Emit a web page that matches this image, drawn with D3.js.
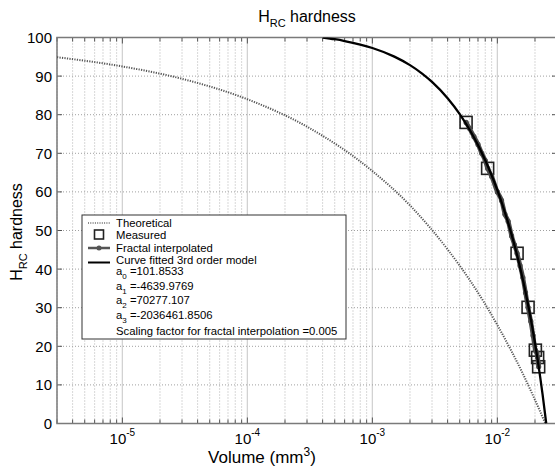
<!DOCTYPE html>
<html>
<head>
<meta charset="utf-8">
<script src="https://cdn.jsdelivr.net/npm/d3@7"></script>
<style>
body { margin: 0; background: #fff; }
text { font-family: "Liberation Sans", Arial, sans-serif; fill: #000; }
</style>
</head>
<body>
<script>
// theoretical curve (volume in mm^3, HRC)
var theoVol = [3e-6, 1e-5, 3e-5, 1e-4, 3e-4, 1e-3, 2e-3, 4e-3, 6e-3, 8e-3, 1e-2, 1.3e-2, 1.6e-2, 1.9e-2, 2.2e-2, 2.42e-2];
var theoHrc = [94.9, 92.5, 89.3, 84.0, 76.9, 65.4, 56.5, 45.1, 37.2, 30.9, 25.5, 18.7, 12.9, 7.7, 3.1, 0];

// measured points
var measVol = [0.00562, 0.00836, 0.01438, 0.01761, 0.02014, 0.0210, 0.0214];
var measHrc = [78.0, 66.1, 44.1, 30.1, 19.0, 17.1, 14.7];

// fractal interpolated
var fracVol = [0.00562, 0.0060, 0.0065, 0.0070, 0.0075, 0.0080, 0.00836, 0.0090, 0.0100, 0.0108, 0.0115, 0.0122, 0.0130, 0.0137, 0.01438, 0.0152, 0.0160, 0.0168, 0.01761, 0.0185, 0.0193, 0.02014, 0.0207, 0.0210, 0.0213, 0.0214];
var fracHrc = [78.0, 76.4, 74.3, 72.3, 70.0, 68.1, 66.1, 64.0, 60.0, 57.8, 54.2, 52.4, 48.6, 46.3, 44.1, 40.9, 37.8, 33.9, 30.1, 26.5, 22.8, 19.0, 18.3, 17.1, 15.6, 14.7];

// curve fitted 3rd order model
var fitVol = [0.0004, 0.0005, 0.0006, 0.0008, 0.001, 0.0015, 0.002, 0.0025, 0.003, 0.004, 0.005, 0.006, 0.007, 0.008, 0.009, 0.010, 0.011, 0.012, 0.013, 0.014, 0.015, 0.016, 0.017, 0.018, 0.019, 0.020, 0.021, 0.022, 0.023, 0.024, 0.0246];
var fitHrc = [100.0, 99.55, 99.09, 98.18, 97.28, 95.04, 92.84, 90.66, 88.51, 84.28, 80.16, 76.10, 72.12, 68.19, 64.30, 60.44, 56.60, 52.77, 48.93, 45.08, 41.19, 37.26, 33.28, 29.22, 25.09, 20.87, 16.54, 12.10, 7.53, 2.82, 0];

var yTickVals = [0, 10, 20, 30, 40, 50, 60, 70, 80, 90, 100];
var xMajorVals = [1e-5, 1e-4, 1e-3, 1e-2];
var xMajorExp = ["-5", "-4", "-3", "-2"];

var coefNames = ["0", "1", "2", "3"];
var coefVals = ["=101.8533", "=-4639.9769", "=70277.107", "=-2036461.8506"];

var width = 555, height = 469;
var margin = {left: 57, top: 37.5, right: 557, bottom: 423.5};

var x = d3.scaleLog().domain([3e-6, 3e-2]).range([margin.left, margin.right]);
var y = d3.scaleLinear().domain([0, 100]).range([margin.bottom, margin.top]);

var svg = d3.select("body").append("svg").attr("width", width).attr("height", height);

svg.append("clipPath").attr("id", "clip")
  .append("rect")
  .attr("x", margin.left).attr("y", margin.top)
  .attr("width", margin.right - margin.left).attr("height", margin.bottom - margin.top);

// grid
var allX = x.ticks();
var isMajor = function(v) {
  return xMajorVals.some(function(m) { return Math.abs(m - v) / m < 1e-6; });
};
var grid = svg.append("g");
allX.forEach(function(v) {
  var major = isMajor(v);
  grid.append("line")
    .attr("x1", x(v)).attr("x2", x(v))
    .attr("y1", margin.top).attr("y2", margin.bottom)
    .style("stroke", major ? "#d2d2d2" : "#b0b0b0")
    .style("stroke-width", major ? 1.3 : 1)
    .style("stroke-dasharray", major ? null : "1,2");
});
yTickVals.forEach(function(v) {
  grid.append("line")
    .attr("x1", margin.left).attr("x2", margin.right)
    .attr("y1", y(v)).attr("y2", y(v))
    .style("stroke", "#a0a0a0")
    .style("stroke-dasharray", "1,2");
});

// ticks (inward, all four sides)
var ticks = svg.append("g").style("stroke", "#555");
allX.forEach(function(v) {
  var len = isMajor(v) ? 6 : 4;
  ticks.append("line").attr("x1", x(v)).attr("x2", x(v)).attr("y1", margin.bottom).attr("y2", margin.bottom - len);
  ticks.append("line").attr("x1", x(v)).attr("x2", x(v)).attr("y1", margin.top).attr("y2", margin.top + len);
});
yTickVals.forEach(function(v) {
  ticks.append("line").attr("x1", margin.left).attr("x2", margin.left + 5).attr("y1", y(v)).attr("y2", y(v));
  ticks.append("line").attr("x1", margin.right).attr("x2", margin.right - 5).attr("y1", y(v)).attr("y2", y(v));
});

// axes box
svg.append("rect")
  .attr("x", margin.left).attr("y", margin.top)
  .attr("width", margin.right - margin.left).attr("height", margin.bottom - margin.top)
  .style("fill", "none").style("stroke", "#7a7a7a").style("stroke-width", 1.5);

// tick labels
yTickVals.forEach(function(v) {
  svg.append("text")
    .attr("x", 52).attr("y", y(v)).attr("dy", "0.36em")
    .style("text-anchor", "end").style("font-size", "15px")
    .text(v);
});
xMajorVals.forEach(function(v, i) {
  var t = svg.append("text")
    .attr("x", x(v)).attr("y", 444)
    .style("text-anchor", "middle").style("font-size", "15px");
  t.append("tspan").text("10");
  t.append("tspan").attr("dy", -8).style("font-size", "10px").text(xMajorExp[i]);
});

var plot = svg.append("g").attr("clip-path", "url(#clip)");

var line = d3.line()
  .x(function(d) { return x(d[0]); })
  .y(function(d) { return y(d[1]); })
  .curve(d3.curveMonotoneX);

var theo = theoVol.map(function(v, i) { return [v, theoHrc[i]]; });
var meas = measVol.map(function(v, i) { return [v, measHrc[i]]; });
var frac = fracVol.map(function(v, i) { return [v, fracHrc[i]]; });
var fit = fitVol.map(function(v, i) { return [v, fitHrc[i]]; });

plot.append("path")
  .attr("d", line(theo))
  .style("fill", "none").style("stroke", "#555")
  .style("stroke-width", 2).style("stroke-dasharray", "1.2,1.3");

plot.selectAll(".meas").data(meas).enter().append("rect")
  .attr("class", "meas")
  .attr("x", function(d) { return x(d[0]) - 6; })
  .attr("y", function(d) { return y(d[1]) - 6; })
  .attr("width", 12).attr("height", 12)
  .style("fill", "none").style("stroke", "#222").style("stroke-width", 1.6);

plot.append("path")
  .attr("d", line(frac))
  .style("fill", "none").style("stroke", "#4a4a4a").style("stroke-width", 4.5);
plot.selectAll(".frac").data(frac).enter().append("circle")
  .attr("class", "frac")
  .attr("cx", function(d) { return x(d[0]); })
  .attr("cy", function(d) { return y(d[1]); })
  .attr("r", 2.6).style("fill", "#4a4a4a");

plot.append("path")
  .attr("d", line(fit))
  .style("fill", "none").style("stroke", "#000").style("stroke-width", 2.3);

// legend
var leg = svg.append("g");
leg.append("rect")
  .attr("x", 82).attr("y", 215).attr("width", 264).attr("height", 124)
  .style("fill", "#fff").style("stroke", "#333").style("stroke-width", 1);

leg.append("line").attr("x1", 88).attr("x2", 110).attr("y1", 223).attr("y2", 223)
  .style("stroke", "#666").style("stroke-width", 1.5).style("stroke-dasharray", "1,1.3");
leg.append("rect").attr("x", 94.5).attr("y", 230).attr("width", 9).attr("height", 9)
  .style("fill", "none").style("stroke", "#222").style("stroke-width", 1.6);
leg.append("line").attr("x1", 88).attr("x2", 110).attr("y1", 248).attr("y2", 248)
  .style("stroke", "#555").style("stroke-width", 2.5);
leg.append("circle").attr("cx", 99).attr("cy", 248).attr("r", 2.5).style("fill", "#555");
leg.append("line").attr("x1", 88).attr("x2", 110).attr("y1", 262.5).attr("y2", 262.5)
  .style("stroke", "#000").style("stroke-width", 2);

var legLabels = ["Theoretical", "Measured", "Fractal interpolated", "Curve fitted 3rd order model"];
var legY = [227, 238.5, 251.5, 264];
legLabels.forEach(function(s, i) {
  leg.append("text").attr("x", 116).attr("y", legY[i]).style("font-size", "11.3px").text(s);
});
var coefY = [275, 289.5, 304, 318.5];
coefNames.forEach(function(n, i) {
  var t = leg.append("text").attr("x", 116).attr("y", coefY[i]).style("font-size", "11.3px");
  t.append("tspan").text("a");
  t.append("tspan").attr("dy", 4).style("font-size", "8px").text(n);
  t.append("tspan").attr("dy", -4).text(" " + coefVals[i]);
});
leg.append("text").attr("x", 116).attr("y", 335).style("font-size", "11.3px")
  .text("Scaling factor for fractal interpolation =0.005");

// title and axis labels
var title = svg.append("text").attr("x", 307).attr("y", 22)
  .style("text-anchor", "middle").style("font-size", "16px");
title.append("tspan").text("H");
title.append("tspan").attr("dy", 5).style("font-size", "11px").text("RC");
title.append("tspan").attr("dy", -5).text(" hardness");

var xl = svg.append("text").attr("x", 262).attr("y", 463)
  .style("text-anchor", "middle").style("font-size", "17px");
xl.append("tspan").text("Volume (mm");
xl.append("tspan").attr("dy", -7).style("font-size", "12px").text("3");
xl.append("tspan").attr("dy", 7).text(")");

var yl = svg.append("text")
  .attr("transform", "translate(22,232) rotate(-90)")
  .style("text-anchor", "middle").style("font-size", "16px");
yl.append("tspan").text("H");
yl.append("tspan").attr("dy", 5).style("font-size", "11px").text("RC");
yl.append("tspan").attr("dy", -5).text(" hardness");
</script>
</body>
</html>
